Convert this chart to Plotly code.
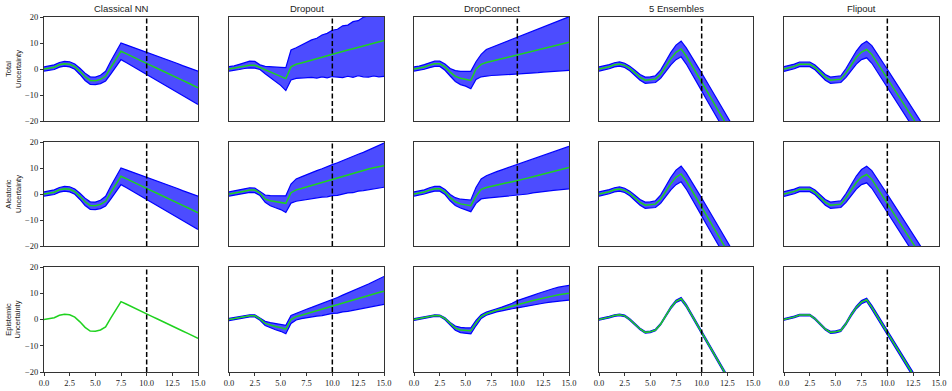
import plotly.graph_objects as go
from plotly.subplots import make_subplots

# x grid shared by every panel
X = [0.0, 0.5, 1.0, 1.5, 2.0, 2.5, 3.0, 3.5, 4.0, 4.5, 5.0, 5.5, 6.0, 6.5, 7.0, 7.5,
     8.0, 8.5, 9.0, 9.5, 10.0, 10.5, 11.0, 11.5, 12.0, 12.5, 13.0, 13.5, 14.0, 14.5, 15.0]

MODELS = ["Classical NN", "Dropout", "DropConnect", "5 Ensembles", "Flipout"]
ROW_NAMES = ["Total<br>Uncertainty", "Aleatoric<br>Uncertainty", "Epistemic<br>Uncertainty"]
THRESHOLD = 10

# Classical NN
NN_MEAN = [0.0, 0.3, 0.7, 1.6, 2.0, 1.8, 0.9, -0.9, -3.0, -4.4, -4.5, -4.0, -2.8, 0.5, 3.8, 6.8,
           5.9, 4.9, 4.0, 3.1, 2.1, 1.2, 0.3, -0.7, -1.6, -2.5, -3.5, -4.4, -5.3, -6.3, -7.2]
NN_UP = [0.8, 1.1, 1.6, 2.5, 2.9, 2.8, 1.9, 0.3, -1.6, -3.0, -3.1, -2.4, -0.9, 3.0, 6.6, 10.0,
         9.3, 8.6, 7.8, 7.1, 6.4, 5.7, 4.9, 4.2, 3.5, 2.8, 2.1, 1.3, 0.6, -0.1, -0.8]
NN_LO = [-0.8, -0.5, -0.2, 0.7, 1.1, 0.8, -0.1, -2.1, -4.4, -5.9, -6.0, -5.6, -4.6, -2.0, 0.9, 3.6,
         2.5, 1.3, 0.2, -1.0, -2.1, -3.3, -4.4, -5.6, -6.7, -7.9, -9.0, -10.1, -11.3, -12.4, -13.6]

# Dropout
DROP_TOT_MEAN = [0.0, 0.3, 0.7, 1.1, 1.4, 1.4, 0.6, -0.5, -1.3, -2.0, -2.8, -3.7, 0.8, 1.8, 2.3, 2.8,
                 3.3, 3.9, 4.5, 5.1, 5.7, 6.3, 6.8, 7.3, 7.8, 8.3, 8.8, 9.4, 10.0, 10.5, 11.0]
DROP_TOT_UP = [0.9, 1.2, 1.8, 2.4, 3.0, 2.9, 1.6, 1.0, 0.8, 0.7, 0.6, 0.5, 7.3, 8.2, 9.3, 10.3,
               11.2, 11.8, 13.1, 13.7, 14.9, 15.3, 16.6, 16.9, 18.2, 18.6, 19.9, 20.5, 21.2, 21.8, 22.4]
DROP_TOT_LO = [-0.8, -0.6, -0.2, 0.2, 0.4, 0.3, -0.2, -1.8, -3.3, -4.8, -6.3, -8.3, -4.2, -3.6, -3.5, -3.3,
               -3.2, -3.5, -3.0, -3.4, -2.9, -3.1, -3.3, -2.8, -3.2, -2.6, -3.0, -3.1, -2.7, -3.0, -2.8]
DROP_ALE_MEAN = [0.0, 0.3, 0.7, 1.1, 1.5, 1.5, 0.3, -2.0, -2.6, -3.0, -3.3, -3.6, 0.5, 1.6, 2.1, 2.7,
                 3.2, 3.7, 4.3, 4.9, 5.5, 6.1, 6.7, 7.3, 7.9, 8.5, 9.1, 9.6, 10.1, 10.5, 10.9]
DROP_ALE_UP = [0.8, 1.1, 1.6, 2.0, 2.4, 2.3, 1.0, -0.4, -0.6, -0.7, -0.7, -0.7, 3.8, 5.8, 6.6, 7.5,
               8.2, 9.0, 9.7, 10.6, 11.3, 12.0, 12.9, 13.6, 14.4, 15.3, 16.0, 16.9, 17.7, 18.6, 19.6]
DROP_ALE_LO = [-0.8, -0.5, -0.2, 0.3, 0.6, 0.5, -0.6, -3.2, -4.5, -5.3, -6.0, -7.1, -3.5, -2.8, -2.5, -2.2,
               -1.7, -1.6, -1.2, -1.1, -0.6, -0.5, -0.1, 0.4, 0.5, 1.1, 1.3, 1.6, 2.1, 2.2, 2.6]
DROP_EPI_MEAN = [0.0, 0.3, 0.7, 1.1, 1.4, 1.4, 0.2, -1.5, -2.2, -2.7, -3.1, -3.7, 0.0, 1.1, 1.6, 2.2,
                 2.8, 3.3, 3.9, 4.5, 5.0, 5.6, 6.2, 6.8, 7.4, 8.0, 8.6, 9.2, 9.8, 10.3, 10.8]
DROP_EPI_UP = [0.4, 0.7, 1.1, 1.5, 1.8, 1.8, 0.7, -0.7, -1.2, -1.5, -1.8, -2.2, 1.5, 2.4, 3.1, 3.9,
               4.6, 5.3, 6.1, 6.8, 7.6, 8.4, 9.3, 10.1, 10.9, 11.8, 12.6, 13.5, 14.5, 15.4, 16.4]
DROP_EPI_LO = [-0.4, -0.1, 0.3, 0.7, 1.0, 1.0, -0.3, -2.3, -3.2, -3.9, -4.5, -5.4, -1.5, -0.2, 0.3, 0.7,
               1.0, 1.3, 1.5, 1.9, 2.3, 2.4, 2.9, 3.1, 3.5, 3.8, 4.2, 4.5, 4.9, 5.3, 5.8]

# DropConnect
DC_TOT_MEAN = [0.0, 0.3, 0.8, 1.5, 2.0, 2.0, 0.8, -1.2, -2.8, -3.6, -4.0, -4.4, 0.0, 1.8, 2.5, 3.0,
               3.5, 4.0, 4.4, 4.9, 5.4, 5.9, 6.4, 6.9, 7.4, 7.9, 8.4, 8.9, 9.4, 9.8, 10.3]
DC_TOT_UP = [0.8, 1.1, 1.7, 2.5, 3.0, 3.0, 1.9, 0.2, -0.6, -0.9, -1.0, -0.9, 2.8, 5.6, 7.5, 8.3,
             9.1, 9.9, 10.7, 11.5, 12.3, 13.1, 13.9, 14.6, 15.4, 16.2, 17.0, 17.8, 18.6, 19.4, 20.1]
DC_TOT_LO = [-0.8, -0.5, -0.1, 0.5, 1.0, 1.0, -0.5, -2.7, -4.8, -6.0, -6.6, -7.6, -4.0, -3.0, -2.7, -2.5,
             -2.4, -2.3, -2.1, -2.1, -1.9, -1.8, -1.6, -1.6, -1.4, -1.2, -1.1, -1.0, -0.8, -0.6, -0.5]
DC_ALE_MEAN = [0.0, 0.3, 0.8, 1.5, 2.0, 2.0, 0.8, -1.4, -3.0, -3.8, -4.2, -4.5, -0.8, 1.8, 2.5, 3.0,
               3.4, 3.8, 4.3, 4.7, 5.1, 5.6, 6.1, 6.6, 7.1, 7.6, 8.2, 8.7, 9.2, 9.7, 10.2]
DC_ALE_UP = [0.8, 1.1, 1.6, 2.4, 2.9, 2.9, 1.7, -0.2, -1.4, -2.0, -2.2, -2.3, 2.5, 5.8, 7.0, 7.9,
             8.6, 9.3, 10.0, 10.7, 11.4, 12.2, 12.8, 13.6, 14.2, 15.0, 15.6, 16.4, 17.0, 17.8, 18.3]
DC_ALE_LO = [-0.8, -0.5, 0.0, 0.6, 1.1, 1.1, -0.2, -2.6, -4.4, -5.4, -6.0, -6.8, -3.6, -1.9, -1.6, -1.4,
             -1.2, -1.1, -0.9, -0.8, -0.6, -0.3, 0.0, 0.4, 0.7, 1.0, 1.2, 1.4, 1.6, 1.8, 2.0]
DC_EPI_MEAN = [0.0, 0.3, 0.7, 1.1, 1.5, 1.4, 0.3, -1.7, -3.3, -4.0, -4.2, -4.3, -1.3, 1.1, 2.2, 3.0,
               3.5, 4.0, 4.6, 5.2, 5.8, 6.3, 6.7, 7.2, 7.7, 8.2, 8.6, 9.0, 9.4, 9.7, 10.0]
DC_EPI_UP = [0.3, 0.6, 1.0, 1.4, 1.8, 1.7, 0.7, -1.1, -2.5, -3.0, -3.2, -3.2, -0.3, 1.8, 2.8, 3.6,
             4.1, 4.7, 5.4, 6.2, 7.2, 7.8, 8.4, 9.2, 9.9, 10.6, 11.2, 11.8, 12.3, 12.7, 13.0]
DC_EPI_LO = [-0.3, 0.0, 0.4, 0.8, 1.2, 1.1, -0.1, -2.3, -4.1, -5.0, -5.3, -5.5, -2.4, 0.4, 1.6, 2.4,
             2.9, 3.3, 3.8, 4.1, 4.4, 4.8, 5.1, 5.5, 5.8, 6.2, 6.5, 6.8, 7.0, 7.2, 7.4]

# 5 Ensembles
ENS_MEAN = [0.0, 0.4, 0.9, 1.6, 1.9, 1.4, 0.2, -1.5, -3.2, -4.3, -4.2, -3.9, -2.0, 1.0, 4.0, 6.4,
            7.7, 5.0, 1.8, -1.6, -5.0, -8.4, -11.8, -15.2, -18.6, -22.0, -25.4, -28.8, -32.2, -35.6, -39.0]
ENS_UP = [0.8, 1.2, 1.7, 2.4, 2.7, 2.2, 1.1, -0.5, -2.1, -3.1, -3.0, -2.6, -0.4, 3.0, 6.4, 9.2,
          10.7, 8.1, 5.0, 1.7, -1.6, -4.9, -8.3, -11.6, -15.0, -18.3, -21.7, -25.0, -28.4, -31.8, -35.2]
ENS_LO = [-0.8, -0.4, 0.1, 0.8, 1.1, 0.6, -0.7, -2.5, -4.3, -5.5, -5.4, -5.2, -3.6, -1.0, 1.6, 3.6,
          4.7, 1.9, -1.4, -4.9, -8.4, -11.9, -15.3, -18.8, -22.2, -25.7, -29.1, -32.6, -36.0, -39.5, -42.8]
ENS_EPI_MEAN = [0.0, 0.4, 0.9, 1.5, 1.8, 1.4, 0.0, -1.8, -3.6, -4.9, -4.7, -4.0, -1.8, 1.4, 4.5, 6.9,
                7.9, 5.3, 1.9, -1.5, -4.9, -8.3, -11.7, -15.1, -18.5, -21.9, -25.3, -28.7, -32.1, -35.5, -38.9]
ENS_EPI_UP = [0.3, 0.7, 1.2, 1.8, 2.1, 1.7, 0.3, -1.5, -3.3, -4.6, -4.4, -3.7, -1.5, 1.7, 4.9, 7.3,
              8.4, 5.8, 2.4, -1.0, -4.4, -7.8, -11.2, -14.5, -17.9, -21.3, -24.7, -28.1, -31.5, -34.9, -38.3]
ENS_EPI_LO = [-0.3, 0.1, 0.6, 1.2, 1.5, 1.1, -0.3, -2.1, -3.9, -5.2, -5.0, -4.3, -2.1, 1.1, 4.1, 6.5,
              7.4, 4.8, 1.4, -2.0, -5.4, -8.8, -12.2, -15.7, -19.1, -22.5, -25.9, -29.3, -32.7, -36.1, -39.5]

# Flipout
FLIP_MEAN = [0.0, 0.4, 1.0, 1.8, 1.9, 1.8, 0.6, -1.4, -3.2, -4.3, -4.1, -3.9, -1.5, 1.7, 4.4, 6.5,
             7.5, 5.6, 2.6, -0.5, -3.6, -6.7, -9.8, -12.9, -16.0, -19.1, -22.2, -25.3, -28.4, -31.5, -34.6]
FLIP_UP = [0.9, 1.3, 1.9, 2.7, 2.8, 2.7, 1.5, -0.4, -2.1, -3.1, -2.9, -2.6, 0.2, 3.8, 6.9, 9.4,
           10.7, 9.0, 6.1, 3.0, -0.1, -3.2, -6.3, -9.4, -12.5, -15.6, -18.7, -21.8, -24.9, -28.0, -31.1]
FLIP_LO = [-0.9, -0.5, 0.1, 0.9, 1.0, 0.9, -0.3, -2.4, -4.3, -5.5, -5.3, -5.2, -3.2, -0.4, 1.9, 3.6,
           4.3, 2.2, -0.9, -4.0, -7.1, -10.2, -13.3, -16.4, -19.5, -22.6, -25.7, -28.8, -31.9, -35.0, -38.1]
FLIP_EPI_MEAN = [0.0, 0.4, 1.0, 1.7, 1.8, 1.7, 0.3, -1.8, -3.7, -4.9, -4.7, -4.2, -1.6, 1.8, 4.6, 6.6,
                 7.5, 4.6, 1.4, -1.8, -5.0, -8.2, -11.4, -14.6, -17.8, -21.0, -24.2, -27.4, -30.6, -33.8, -37.0]
FLIP_EPI_UP = [0.3, 0.7, 1.3, 2.0, 2.1, 2.0, 0.6, -1.5, -3.4, -4.5, -4.3, -3.8, -1.2, 2.3, 5.1, 7.2,
               8.1, 5.4, 2.2, -0.9, -4.1, -7.3, -10.5, -13.7, -16.9, -20.1, -23.3, -26.5, -29.7, -32.9, -36.1]
FLIP_EPI_LO = [-0.3, 0.1, 0.7, 1.4, 1.5, 1.4, 0.0, -2.1, -4.0, -5.3, -5.1, -4.6, -2.0, 1.3, 4.1, 6.0,
               6.9, 3.8, 0.6, -2.7, -5.9, -9.1, -12.3, -15.5, -18.7, -21.9, -25.1, -28.3, -31.5, -34.7, -37.9]

# (mean, upper, lower) for each row / column; no band = line only
PANELS = [
    [(NN_MEAN, NN_UP, NN_LO), (DROP_TOT_MEAN, DROP_TOT_UP, DROP_TOT_LO),
     (DC_TOT_MEAN, DC_TOT_UP, DC_TOT_LO), (ENS_MEAN, ENS_UP, ENS_LO), (FLIP_MEAN, FLIP_UP, FLIP_LO)],
    [(NN_MEAN, NN_UP, NN_LO), (DROP_ALE_MEAN, DROP_ALE_UP, DROP_ALE_LO),
     (DC_ALE_MEAN, DC_ALE_UP, DC_ALE_LO), (ENS_MEAN, ENS_UP, ENS_LO), (FLIP_MEAN, FLIP_UP, FLIP_LO)],
    [(NN_MEAN, None, None), (DROP_EPI_MEAN, DROP_EPI_UP, DROP_EPI_LO),
     (DC_EPI_MEAN, DC_EPI_UP, DC_EPI_LO), (ENS_EPI_MEAN, ENS_EPI_UP, ENS_EPI_LO),
     (FLIP_EPI_MEAN, FLIP_EPI_UP, FLIP_EPI_LO)],
]

W, H = 952, 391
COL_PX = [(44, 198), (229, 384), (414, 569), (599, 753), (784, 939)]
ROW_PX = [(17, 121), (142, 246), (267, 372)]

FILL = "rgba(0,0,255,0.7)"
EDGE = "#0000ff"
GREEN = "#1fd21f"
TICK_FONT = dict(family="Liberation Serif", size=8.5, color="#222")
SANS = "Liberation Sans"

fig = make_subplots(rows=3, cols=5)

for r in range(3):
    for c in range(5):
        mean, up, lo = PANELS[r][c]
        if up is not None:
            fig.add_trace(go.Scatter(x=X, y=lo, mode="lines", line=dict(color=EDGE, width=1.2),
                                     showlegend=False, hoverinfo="skip"), row=r + 1, col=c + 1)
            fig.add_trace(go.Scatter(x=X, y=up, mode="lines", line=dict(color=EDGE, width=1.2),
                                     fill="tonexty", fillcolor=FILL,
                                     showlegend=False, hoverinfo="skip"), row=r + 1, col=c + 1)
        fig.add_trace(go.Scatter(x=X, y=mean, mode="lines", line=dict(color=GREEN, width=1.5),
                                 showlegend=False), row=r + 1, col=c + 1)
        fig.add_vline(x=THRESHOLD, line=dict(color="black", width=1.5, dash="5px,2.5px"),
                      row=r + 1, col=c + 1)

        x0, x1 = COL_PX[c]
        y0, y1 = ROW_PX[r]
        fig.update_xaxes(domain=[x0 / W, x1 / W], range=[0, 15], automargin=False,
                         tickvals=[0, 2.5, 5, 7.5, 10, 12.5, 15], tickformat=".1f",
                         showticklabels=(r == 2), ticks="outside" if r == 2 else "",
                         ticklen=3, tickcolor="#333", tickfont=TICK_FONT,
                         showline=True, mirror=True, linecolor="#333", linewidth=1,
                         showgrid=False, zeroline=False, row=r + 1, col=c + 1)
        fig.update_yaxes(domain=[1 - y1 / H, 1 - y0 / H], range=[-20, 20], automargin=False,
                         tickvals=[-20, -10, 0, 10, 20],
                         showticklabels=(c == 0), ticks="outside" if c == 0 else "",
                         ticklen=3, tickcolor="#333", tickfont=TICK_FONT,
                         showline=True, mirror=True, linecolor="#333", linewidth=1,
                         showgrid=False, zeroline=False, row=r + 1, col=c + 1)

annotations = []
for c, name in enumerate(MODELS):
    x0, x1 = COL_PX[c]
    annotations.append(dict(text=name, x=(x0 + x1) / 2 / W, y=1 - 9 / H, xref="paper", yref="paper",
                            xanchor="center", yanchor="middle", showarrow=False,
                            font=dict(family=SANS, size=9.5, color="#222")))
for r, name in enumerate(ROW_NAMES):
    y0, y1 = ROW_PX[r]
    annotations.append(dict(text=name, x=13 / W, y=1 - (y0 + y1) / 2 / H, xref="paper", yref="paper",
                            xanchor="center", yanchor="middle", showarrow=False, textangle=-90,
                            font=dict(family=SANS, size=7.5, color="#222")))

fig.update_layout(width=W, height=H, margin=dict(l=0, r=0, t=0, b=0),
                  plot_bgcolor="white", paper_bgcolor="white",
                  annotations=annotations, showlegend=False)

# the page body has a default 8px margin; drop it so the figure fills the window
fig.write_html("out.html", config={"displayModeBar": False},
               post_script="document.body.style.margin='0px';")
